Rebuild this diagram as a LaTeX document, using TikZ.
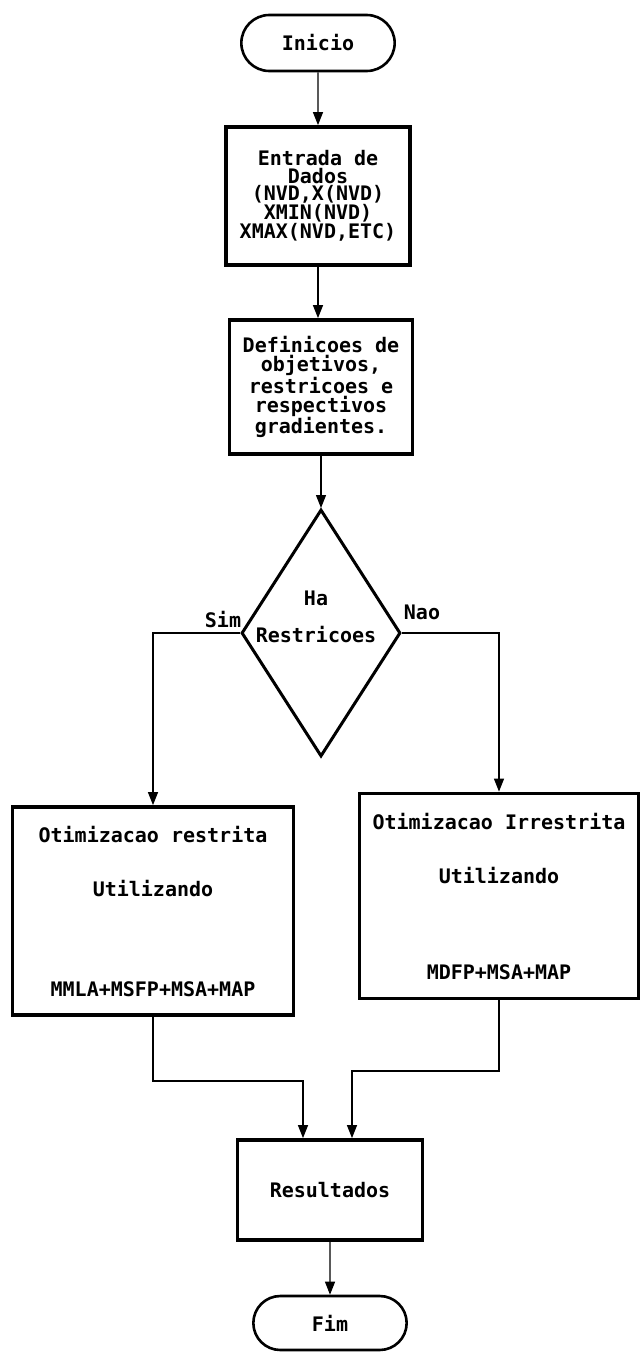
\documentclass[tikz,border=0pt]{standalone}
\usepackage{fontspec}
\setmonofont{DejaVu Sans Mono}
\usepackage{tikz}
\usetikzlibrary{shapes.geometric, shapes.misc, arrows.meta}
\tikzstyle{arrow}    = [line width=1.2pt,-{Triangle[length=13pt,width=10pt]}]
\tikzstyle{terminal} = [rounded rectangle, draw, line width=2.6pt, minimum width=160pt, minimum height=56pt]
\tikzstyle{processo} = [rectangle, draw, line width=3.8pt, align=center]
\tikzstyle{pergunta} = [diamond, draw, line width=3pt, inner sep=0pt, minimum width=159pt, minimum height=247pt]
\tikzstyle{rotulo}   = [inner sep=0pt]

\begin{document}
\begin{tikzpicture}[x=1pt, y=-1pt, font={\ttfamily\bfseries\fontsize{20}{17.5}\selectfont}]
  \useasboundingbox (0,0) rectangle (641,1352);

  %fluxo principal
  \node[terminal] (inicio) at (318,43) {Inicio};
  \node[processo, minimum width=184pt, minimum height=138pt] (entrada) at (318,196)
    {Entrada de\\Dados\\(NVD,X(NVD)\\XMIN(NVD)\\XMAX(NVD,ETC)};
  \node[processo, minimum width=183pt, minimum height=134pt, font={\ttfamily\bfseries\fontsize{20}{19}\selectfont}] (definicoes) at (321,387)
    {Definicoes de\\objetivos,\\restricoes e\\respectivos\\gradientes.};

  %decisao
  \node[pergunta] (decisao) at (321,633) {};
  \node[rotulo, align=center] (condicao) at (316,617) {Ha\\[19.5pt]Restricoes};
  \node[rotulo] (sim) at (223,620) {Sim};
  \node[rotulo] (nao) at (422,612) {Nao};

  %os dois ramos
  \node[processo, minimum width=281pt, minimum height=208pt] (restrita) at (153,911)
    {Otimizacao restrita\\[36.5pt]Utilizando\\[82.5pt]MMLA+MSFP+MSA+MAP};
  \node[processo, minimum width=279pt, minimum height=205pt] (irrestrita) at (499,896)
    {Otimizacao Irrestrita\\[36.5pt]Utilizando\\[78.5pt]MDFP+MSA+MAP};

  %final
  \node[processo, minimum width=185pt, minimum height=100pt] (resultados) at (330,1190) {Resultados};
  \node[terminal, minimum height=54pt] (fim) at (330,1323) {Fim};

  \coordinate (juntaesq) at (303,1081);
  \coordinate (juntadir) at (352,1071);

  \draw[arrow] (inicio) -- (entrada);
  \draw[arrow] (entrada) -- (entrada |- definicoes.north);
  \draw[arrow] (definicoes) -- (decisao);
  \draw[arrow] (decisao.west) -| (restrita.north);
  \draw[arrow] (decisao.east) -| (irrestrita.north);
  \draw[arrow] (restrita.south) |- (juntaesq) -- (juntaesq |- resultados.north);
  \draw[arrow] (irrestrita.south) |- (juntadir) -- (juntadir |- resultados.north);
  \draw[arrow] (resultados) -- (fim);
\end{tikzpicture}
\end{document}
